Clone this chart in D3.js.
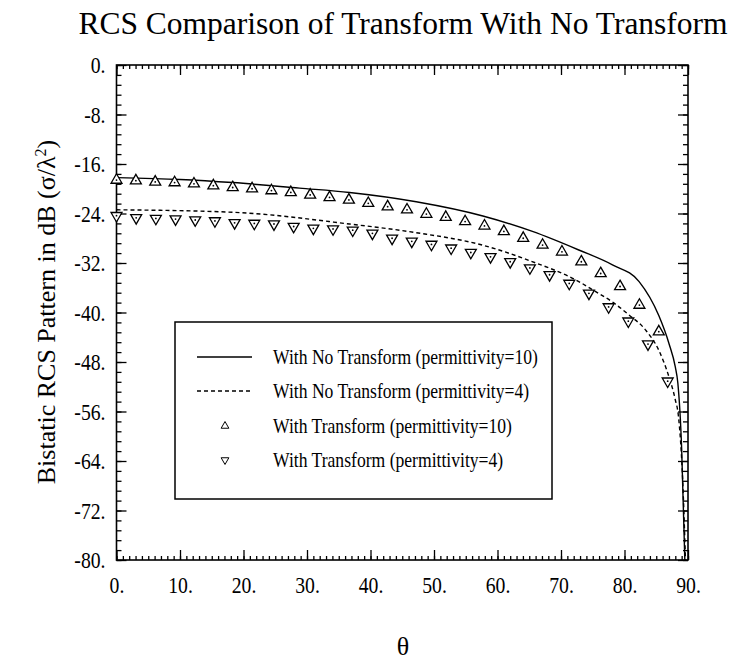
<!DOCTYPE html>
<html>
<head>
<meta charset="utf-8">
<script src="https://cdn.jsdelivr.net/npm/d3@7"></script>
<style>
body { margin: 0; background: #fff; }
text { font-family: "Liberation Serif", "Times New Roman", serif; fill: #000; }
</style>
</head>
<body>
<div class="main"></div>
<script>
const WIDTH = 740;
const HEIGHT = 660;
const LEFT = 116.5, RIGHT = 688, TOP = 65, BOTTOM = 560;

// tick values
const thetaTicks = [0, 10, 20, 30, 40, 50, 60, 70, 80, 90];
const dbTicks = [0, -8, -16, -24, -32, -40, -48, -56, -64, -72, -80];

// With No Transform (permittivity=10), solid line
const solidTheta = [0, 10, 18.3, 28.8, 36.7, 47.2, 57.7, 65.5, 72.8, 78.1, 82.3, 85.4, 87.0, 88.0, 88.4, 89.0, 89.5];
const solidDb = [-18.2, -18.5, -19.0, -19.9, -20.6, -22.1, -24.4, -26.9, -29.9, -32.3, -35.0, -40.5, -45.0, -48.8, -51.4, -62, -80];

// With No Transform (permittivity=4), dashed line
const dashTheta = [0, 18.3, 36.7, 47.2, 57.6, 65, 72.8, 75.4, 78.1, 80.7, 83.3, 85.4, 87.0, 88.0, 88.5, 89.2, 89.6];
const dashDb = [-23.4, -23.8, -25.7, -27.1, -29.1, -31.6, -35.0, -36.6, -38.3, -40.4, -42.8, -46.1, -50.4, -54.1, -56.8, -68, -80];

// With Transform (permittivity=10), up triangles
const upTheta = [0, 3.05, 6.1, 9.15, 12.2, 15.25, 18.3, 21.35, 24.4, 27.45, 30.5, 33.55, 36.6, 39.65, 42.7,
    45.75, 48.8, 51.85, 54.9, 57.95, 61.0, 64.05, 67.1, 70.15, 73.2, 76.25, 79.3, 82.35, 85.4];
const upDb = [-18.6, -18.7, -18.9, -19.0, -19.2, -19.5, -19.8, -20.0, -20.3, -20.6, -21.0, -21.4, -21.8, -22.35, -22.9,
    -23.4, -24.1, -24.6, -25.3, -26.0, -26.9, -28.0, -29.1, -30.2, -31.8, -33.7, -35.8, -38.8, -43.1];

// With Transform (permittivity=4), down triangles
const downTheta = [0, 3.1, 6.2, 9.3, 12.4, 15.5, 18.6, 21.7, 24.8, 27.9, 31.0, 34.1, 37.2, 40.3, 43.4,
    46.5, 49.6, 52.7, 55.8, 58.9, 62.0, 65.1, 68.2, 71.3, 74.4, 77.5, 80.6, 83.7, 86.8];
const downDb = [-24.35, -24.7, -24.8, -24.9, -25.05, -25.2, -25.5, -25.6, -25.7, -26.1, -26.4, -26.5, -26.7, -27.2, -28.0,
    -28.5, -29.0, -29.6, -30.3, -31.0, -31.8, -32.8, -33.9, -35.3, -36.9, -39.1, -41.4, -45.1, -51.1];

const legendLabels = [
    "With No Transform (permittivity=10)",
    "With No Transform (permittivity=4)",
    "With Transform (permittivity=10)",
    "With Transform (permittivity=4)"
];

var svg = d3.select(".main")
    .append("svg")
        .attr("width", WIDTH)
        .attr("height", HEIGHT);

var x = d3.scaleLinear().domain([0, 90]).range([LEFT, RIGHT]);
var y = d3.scaleLinear().domain([0, -80]).range([TOP, BOTTOM]);

var fmt = d => String(d) + ".";

// the original print is narrower than the font, so squeeze texts sideways
function squeeze(sel, f) {
    sel.each(function () {
        var w = this.getComputedTextLength();
        d3.select(this)
            .attr("textLength", w * f)
            .attr("lengthAdjust", "spacingAndGlyphs");
    });
}

// title
svg.append("text")
    .attr("x", 403)
    .attr("y", 34)
    .attr("text-anchor", "middle")
    .attr("font-size", 31.5)
    .text("RCS Comparison of Transform With No Transform");

// axes: minor ticks
var minorX = d3.range(0, 91, 1);
var minorY = d3.range(0, -80.01, -1.6);

svg.append("g").attr("transform", `translate(0,${BOTTOM})`)
    .call(d3.axisBottom(x).tickValues(minorX).tickSize(-4).tickFormat(""));
svg.append("g").attr("transform", `translate(0,${TOP})`)
    .call(d3.axisTop(x).tickValues(minorX).tickSize(-4).tickFormat(""));
svg.append("g").attr("transform", `translate(${LEFT},0)`)
    .call(d3.axisLeft(y).tickValues(minorY).tickSize(-5).tickFormat(""));
svg.append("g").attr("transform", `translate(${RIGHT},0)`)
    .call(d3.axisRight(y).tickValues(minorY).tickSize(-5).tickFormat(""));

// axes: major ticks with labels
var xAxis = svg.append("g").attr("transform", `translate(0,${BOTTOM})`)
    .call(d3.axisBottom(x).tickValues(thetaTicks).tickSize(-10).tickPadding(16).tickFormat(fmt));
svg.append("g").attr("transform", `translate(0,${TOP})`)
    .call(d3.axisTop(x).tickValues(thetaTicks).tickSize(-10).tickFormat(""));
var yAxis = svg.append("g").attr("transform", `translate(${LEFT},0)`)
    .call(d3.axisLeft(y).tickValues(dbTicks).tickSize(-10).tickPadding(11).tickFormat(fmt));
svg.append("g").attr("transform", `translate(${RIGHT},0)`)
    .call(d3.axisRight(y).tickValues(dbTicks).tickSize(-10).tickFormat(""));

svg.selectAll(".domain").remove();
svg.selectAll(".tick line").attr("stroke", "#000").attr("stroke-width", 1.3);
xAxis.selectAll("text").attr("font-size", 24).attr("font-family", "Liberation Serif");
yAxis.selectAll("text").attr("font-size", 24).attr("font-family", "Liberation Serif");
squeeze(xAxis.selectAll("text"), 0.82);
squeeze(yAxis.selectAll("text"), 0.82);

// frame
svg.append("rect")
    .attr("x", LEFT).attr("y", TOP)
    .attr("width", RIGHT - LEFT).attr("height", BOTTOM - TOP)
    .attr("fill", "none").attr("stroke", "#000").attr("stroke-width", 1.6);

// axis titles
svg.append("text")
    .attr("transform", "translate(55,312) rotate(-90)")
    .attr("text-anchor", "middle")
    .attr("font-size", 26)
    .html('Bistatic RCS Pattern in dB (σ/λ<tspan dy="-9" font-size="16">2</tspan><tspan dy="9">)</tspan>');

svg.append("text")
    .attr("x", 403)
    .attr("y", 655)
    .attr("text-anchor", "middle")
    .attr("font-size", 26)
    .text("θ");

// curves
var line = d3.line()
    .x(d => x(d[0]))
    .y(d => y(d[1]))
    .curve(d3.curveMonotoneX);

var plot = svg.append("g");

plot.append("path")
    .datum(d3.zip(solidTheta, solidDb))
    .attr("d", line)
    .attr("fill", "none")
    .attr("stroke", "#000")
    .attr("stroke-width", 1.4);

plot.append("path")
    .datum(d3.zip(dashTheta, dashDb))
    .attr("d", line)
    .attr("fill", "none")
    .attr("stroke", "#000")
    .attr("stroke-width", 1.4)
    .attr("stroke-dasharray", "4,3");

var tri = d3.symbol(d3.symbolTriangle, 52);

function drawMarkers(thetas, dbs, rot) {
    var g = plot.selectAll(null)
        .data(d3.zip(thetas, dbs))
        .join("g")
        .attr("transform", d => `translate(${x(d[0])},${y(d[1])})`);
    g.append("path")
        .attr("d", tri)
        .attr("transform", `rotate(${rot})`)
        .attr("fill", "#fff")
        .attr("stroke", "#000")
        .attr("stroke-width", 1.3);
    g.append("circle")
        .attr("r", 0.9)
        .attr("fill", "#000");
}
drawMarkers(upTheta, upDb, 0);
drawMarkers(downTheta, downDb, 180);

// legend
var legend = svg.append("g");
legend.append("rect")
    .attr("x", 175).attr("y", 322)
    .attr("width", 377).attr("height", 177)
    .attr("fill", "#fff").attr("stroke", "#000").attr("stroke-width", 1.5);

var rowY = [357, 391, 426, 460];

legend.append("line")
    .attr("x1", 197).attr("x2", 252).attr("y1", rowY[0]).attr("y2", rowY[0])
    .attr("stroke", "#000").attr("stroke-width", 1.3);
legend.append("line")
    .attr("x1", 197).attr("x2", 252).attr("y1", rowY[1]).attr("y2", rowY[1])
    .attr("stroke", "#000").attr("stroke-width", 1.3).attr("stroke-dasharray", "4,3");

var smallTri = d3.symbol(d3.symbolTriangle, 26);
legend.append("path")
    .attr("d", smallTri)
    .attr("transform", `translate(225,${rowY[2]})`)
    .attr("fill", "none").attr("stroke", "#000").attr("stroke-width", 1);
legend.append("path")
    .attr("d", smallTri)
    .attr("transform", `translate(225,${rowY[3]}) rotate(180)`)
    .attr("fill", "none").attr("stroke", "#000").attr("stroke-width", 1);

var legendText = legend.selectAll(".lbl")
    .data(legendLabels)
    .join("text")
    .attr("class", "lbl")
    .attr("x", 273)
    .attr("y", (d, i) => rowY[i] + 7)
    .attr("font-size", 22)
    .text(d => d);
squeeze(legendText, 0.8);
</script>
</body>
</html>
